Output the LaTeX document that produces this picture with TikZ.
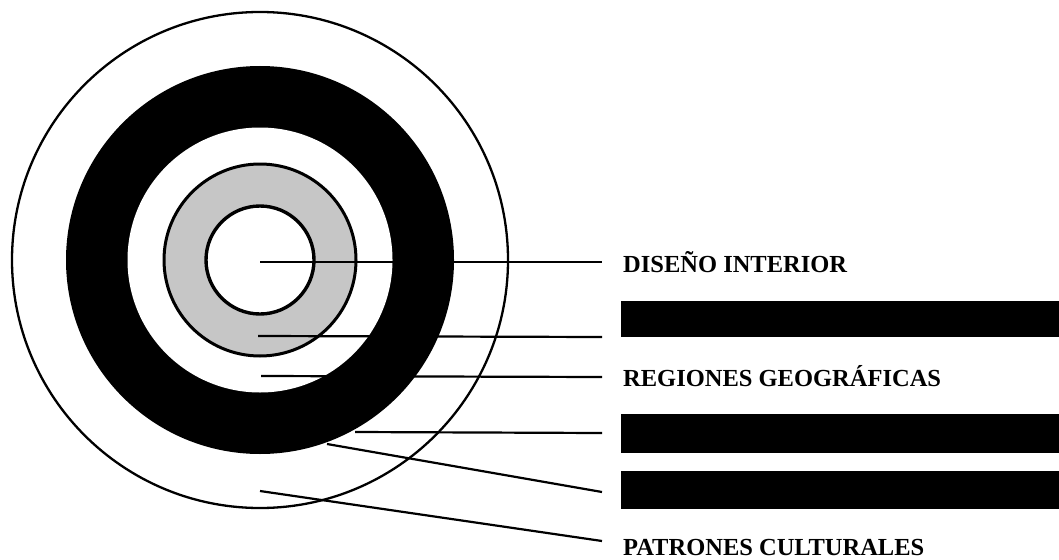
\documentclass[tikz,border=0pt]{standalone}
\usepackage{fontspec}
\setmainfont{Liberation Serif}
\begin{document}
\begin{tikzpicture}[x=1pt,y=-1pt,
  leader/.style={line width=2.2pt},
  label/.style={anchor=base west, inner sep=0pt, font=\bfseries\fontsize{24.5}{26}\selectfont},
  redact/.style={fill=black, inner sep=0pt, anchor=north west, minimum width=438pt}]
\useasboundingbox (0,0) rectangle (1059,559);
\fill[white] (0,0) rectangle (1059,559);
\coordinate (c) at (260,260);
% rings
\draw[line width=2.3pt] (c) circle[radius=248];
\fill[black] (c) circle[radius=194];
\fill[white] (c) circle[radius=132.5];
\draw[fill=gray!45, line width=3pt] (c) circle[radius=96];
\draw[fill=white, line width=3.4pt] (c) circle[radius=54];
% label nodes
\node[label] (t1) at (623,272) {DISEÑO INTERIOR};
\node[redact, minimum height=36pt] (b1) at (621,301) {};
\node[label] (t3) at (623,386) {REGIONES GEOGRÁFICAS};
\node[redact, minimum height=39pt] (b2) at (621,414) {};
\node[redact, minimum height=38pt] (b3) at (621,471) {};
\node[label] (t6) at (623,555) {PATRONES CULTURALES};
% leader start / end points
\coordinate (s1) at (260,262);
\coordinate (s2) at (258,336);
\coordinate (s3) at (261,376);
\coordinate (s4) at (355,432);
\coordinate (s5) at (327,444);
\coordinate (s6) at (260,491);
\coordinate (e1) at (602,262);
\coordinate (e2) at (602,337);
\coordinate (e3) at (602,377);
\coordinate (e4) at (602,433);
\coordinate (e5) at (602,492);
\coordinate (e6) at (602,541);
\draw[leader] (s1) -- (e1);
\draw[leader] (s2) -- (e2);
\draw[leader] (s3) -- (e3);
\draw[leader] (s4) -- (e4);
\draw[leader] (s5) -- (e5);
\draw[leader] (s6) -- (e6);
\end{tikzpicture}
\end{document}
